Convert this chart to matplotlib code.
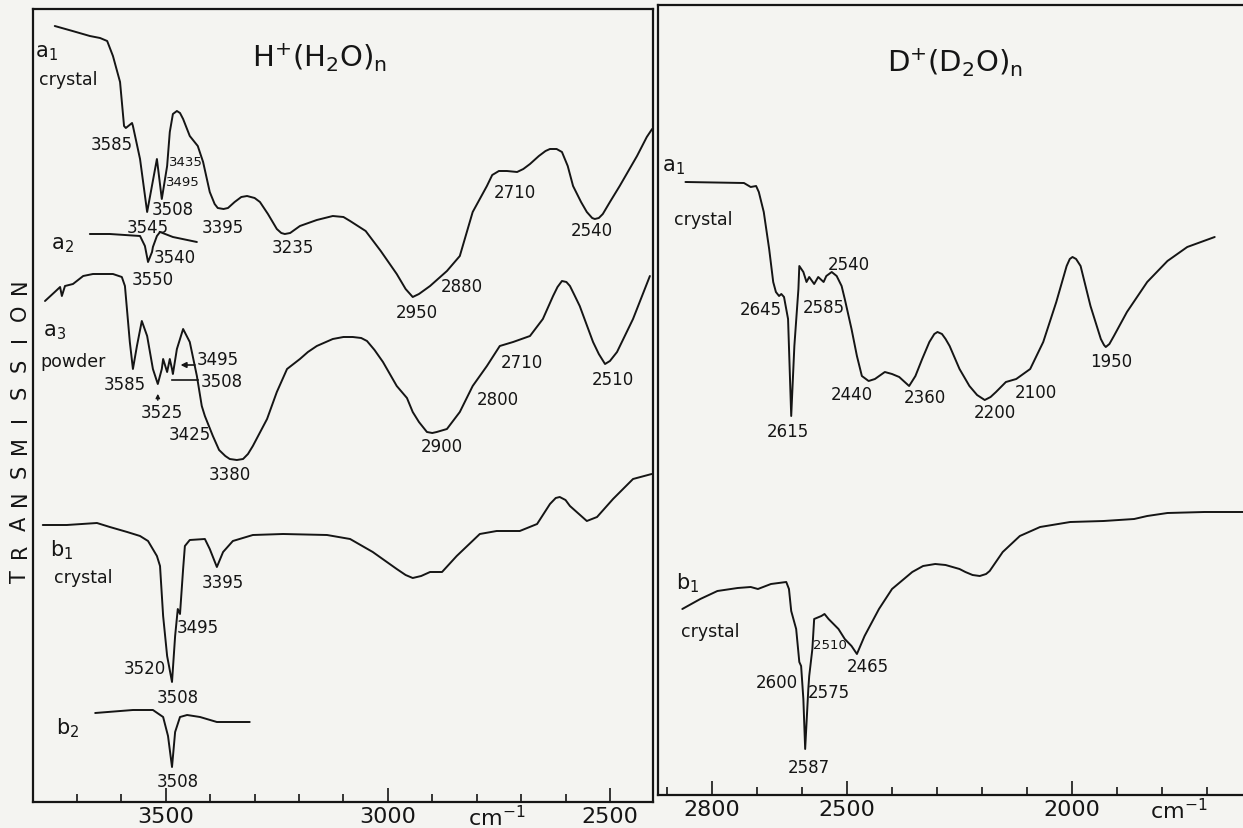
import matplotlib
matplotlib.use("Agg")
import matplotlib.pyplot as plt
from matplotlib.ticker import FixedLocator, MultipleLocator

plt.rcParams['font.family'] = ['DejaVu Sans']
plt.rcParams['mathtext.default'] = 'regular'

# ---------------- H+(H2O)n panel (wavenumber cm-1, transmission arb. units) ----------------
a1_h_wn = [3750, 3710, 3671, 3648, 3632, 3619, 3603, 3594, 3590, 3576, 3574, 3558, 3542, 3520,
           3509, 3497, 3491, 3484, 3475, 3468, 3461, 3446, 3428, 3416, 3401, 3390, 3383, 3370,
           3360, 3345, 3330, 3317, 3300, 3288, 3270, 3250, 3240, 3232, 3220, 3198, 3160, 3124,
           3100, 3085, 3050, 3016, 2980, 2960, 2944, 2930, 2905, 2867, 2838, 2809, 2777, 2765,
           2750, 2732, 2709, 2695, 2680, 2660, 2645, 2635, 2620, 2608, 2595, 2583, 2565, 2552,
           2540, 2534, 2525, 2516, 2500, 2478, 2439, 2417, 2405]
a1_h_t = [776, 771, 766, 764, 761, 746, 720, 676, 674, 679, 676, 643, 590, 643,
          603, 636, 670, 688, 691, 689, 683, 666, 656, 640, 610, 598, 594, 593,
          594, 600, 605, 606, 604, 600, 588, 573, 569, 568, 569, 576, 582, 586,
          585, 581, 571, 551, 528, 513, 505, 508, 516, 531, 546, 590, 616, 627,
          631, 631, 630, 633, 638, 646, 651, 653, 653, 650, 636, 616, 600, 590,
          584, 583, 584, 588, 600, 616, 646, 665, 673]

a2_h_wn = [3671, 3626, 3558, 3547, 3540, 3531, 3529, 3520, 3513, 3484, 3430]
a2_h_t = [568, 568, 566, 556, 540, 550, 555, 566, 570, 565, 560]

a3_h_wn = [3772, 3750, 3738, 3734, 3727, 3709, 3686, 3664, 3619, 3599, 3592, 3581, 3574, 3565,
           3554, 3542, 3529, 3518, 3509, 3506, 3497, 3491, 3486, 3484, 3475, 3461, 3446, 3430,
           3419, 3412, 3394, 3380, 3366, 3356, 3340, 3326, 3315, 3304, 3272, 3250, 3227, 3198,
           3180, 3160, 3124, 3100, 3079, 3060, 3047, 3030, 3011, 2980, 2957, 2944, 2930, 2912,
           2900, 2890, 2867, 2838, 2809, 2777, 2748, 2718, 2680, 2651, 2628, 2618, 2608, 2598,
           2590, 2580, 2568, 2538, 2525, 2511, 2500, 2484, 2448, 2410]
a3_h_t = [501, 510, 515, 506, 516, 518, 526, 528, 528, 525, 516, 460, 433, 456,
          481, 466, 433, 418, 433, 443, 430, 443, 433, 428, 453, 473, 460, 426,
          396, 386, 366, 352, 346, 343, 342, 343, 348, 356, 383, 410, 433, 443,
          450, 456, 463, 465, 465, 464, 461, 452, 440, 416, 404, 390, 380, 370,
          369, 370, 373, 390, 416, 436, 456, 460, 466, 483, 506, 515, 521, 520,
          516, 507, 496, 460, 448, 438, 441, 450, 483, 526]

b1_h_wn = [3777, 3723, 3655, 3626, 3587, 3558, 3540, 3520, 3513, 3506, 3497, 3486, 3479, 3473,
           3468, 3461, 3457, 3446, 3412, 3401, 3385, 3371, 3349, 3304, 3236, 3137, 3085, 3034,
           2980, 2960, 2944, 2925, 2905, 2878, 2845, 2793, 2755, 2703, 2664, 2635, 2622, 2613,
           2600, 2590, 2552, 2529, 2493, 2448, 2406]
b1_h_t = [277, 277, 279, 275, 270, 266, 261, 246, 236, 186, 146, 120, 166, 193,
          188, 233, 256, 262, 263, 253, 235, 250, 261, 267, 268, 267, 263, 250,
          233, 227, 224, 226, 230, 230, 246, 268, 271, 271, 278, 298, 304, 305,
          302, 296, 281, 285, 303, 323, 328]

b2_h_wn = [3659, 3574, 3529, 3506, 3495, 3486, 3479, 3468, 3452, 3423, 3385, 3311]
b2_h_t = [89, 92, 92, 85, 66, 35, 70, 85, 87, 85, 80, 80]

# ---------------- D+(D2O)n panel ----------------
a1_d_wn = [2858, 2728, 2713, 2701, 2695, 2684, 2672, 2663, 2657, 2650, 2645, 2639, 2630, 2623,
           2616, 2607, 2605, 2596, 2589, 2583, 2572, 2563, 2551, 2545, 2533, 2522, 2511, 2504,
           2489, 2477, 2466, 2451, 2437, 2415, 2399, 2383, 2361, 2347, 2332, 2316, 2305, 2298,
           2288, 2280, 2271, 2249, 2227, 2210, 2193, 2180, 2168, 2146, 2123, 2092, 2063, 2034,
           2011, 2004, 1998, 1990, 1980, 1958, 1935, 1928, 1924, 1916, 1906, 1877, 1832, 1787,
           1743, 1682]
a1_d_t = [613, 612, 608, 609, 603, 583, 546, 513, 503, 499, 501, 498, 476, 379,
          449, 506, 529, 523, 513, 518, 511, 518, 513, 519, 523, 519, 509, 496,
          466, 439, 419, 414, 416, 423, 421, 418, 409, 419, 436, 453, 461, 463,
          461, 456, 449, 426, 409, 400, 395, 398, 403, 413, 416, 426, 453, 493,
          529, 536, 538, 536, 529, 489, 456, 450, 448, 451, 459, 483, 513, 534,
          548, 558]

b1_d_wn = [2865, 2825, 2787, 2742, 2713, 2697, 2668, 2634, 2628, 2623, 2612, 2605, 2601, 2596,
           2592, 2585, 2583, 2576, 2572, 2556, 2549, 2540, 2518, 2504, 2489, 2477, 2460, 2428,
           2399, 2354, 2330, 2303, 2280, 2249, 2236, 2220, 2204, 2190, 2182, 2153, 2115, 2070,
           2003, 1929, 1861, 1832, 1787, 1705, 1600]
b1_d_t = [186, 196, 204, 207, 208, 206, 211, 213, 206, 184, 166, 133, 129, 96,
          46, 106, 119, 146, 176, 179, 181, 176, 166, 156, 149, 141, 159, 186,
          206, 223, 229, 231, 230, 226, 223, 220, 219, 221, 224, 243, 259, 268,
          273, 274, 276, 279, 282, 283, 283]

# peak labels: (text, wavenumber, y, size)
h_labels = [("3585", 3621, 658, 12), ("3435", 3455, 640, 9.5), ("3495", 3462, 620, 9.5),
            ("3508", 3484, 593, 12), ("3545", 3540, 575, 12), ("3395", 3371, 575, 12),
            ("3235", 3214, 555, 12), ("3540", 3479, 545, 12), ("3550", 3529, 523, 12),
            ("2950", 2935, 490, 12), ("2880", 2833, 516, 12), ("2710", 2714, 610, 12),
            ("2540", 2541, 572, 12),
            ("3495", 3383, 443, 12), ("3508", 3374, 421, 12), ("3585", 3592, 418, 12),
            ("3525", 3509, 390, 12), ("3425", 3446, 368, 12), ("3380", 3356, 328, 12),
            ("2900", 2878, 356, 12), ("2800", 2752, 403, 12), ("2710", 2698, 440, 12),
            ("2510", 2493, 423, 12),
            ("3395", 3371, 220, 12), ("3495", 3428, 175, 12), ("3520", 3547, 134, 12),
            ("3508", 3473, 105, 12), ("3508", 3473, 21, 12)]
d_labels = [("2540", 2495, 531, 12), ("2645", 2690, 486, 12), ("2585", 2551, 488, 12),
            ("2615", 2630, 364, 12), ("2440", 2489, 401, 12), ("2360", 2325, 398, 12),
            ("2200", 2171, 383, 12), ("2100", 2079, 403, 12), ("1950", 1911, 434, 12),
            ("2600", 2654, 113, 12), ("2575", 2540, 103, 12), ("2510", 2538, 150, 9.5),
            ("2465", 2453, 129, 12), ("2587", 2585, 28, 12)]
# trace names: (text, wavenumber, y, size)
h_names = [("$a_1$", 3768, 750, 15), ("crystal", 3720, 723, 12.5), ("$a_2$", 3732, 558, 15),
           ("$a_3$", 3750, 471, 15), ("powder", 3709, 441, 12.5), ("$b_1$", 3734, 253, 15),
           ("crystal", 3686, 225, 12.5), ("$b_2$", 3722, 75, 15)]
d_names = [("$a_1$", 2885, 629, 15), ("crystal", 2818, 576, 12.5), ("$b_1$", 2852, 213, 15),
           ("crystal", 2802, 164, 12.5)]

h_ticks = [3500, 3000, 2500]
d_ticks = [2800, 2500, 2000]

INK = '#151515'
BG = '#f4f4f1'

fig = plt.figure(figsize=(12.43, 8.29), dpi=100, facecolor=BG)
axL = fig.add_axes([33 / 1243, 26 / 829, 620 / 1243, 793 / 829])
axR = fig.add_axes([658 / 1243, 33 / 829, 590 / 1243, 790 / 829])

for ax in (axL, axR):
    ax.set_facecolor(BG)
    for s in ax.spines.values():
        s.set_linewidth(1.6)
        s.set_color(INK)
    ax.set_yticks([])
    ax.tick_params(axis='x', which='both', direction='in', top=False, colors=INK,
                   labelsize=16, pad=3)
    ax.tick_params(axis='x', which='major', length=10, width=1.2)
    ax.tick_params(axis='x', which='minor', length=6, width=1.2)
axR.spines['right'].set_visible(False)

style = dict(color=INK, lw=1.4, solid_joinstyle='round', solid_capstyle='round')
axL.plot(a1_h_wn, a1_h_t, **style)
axL.plot(a2_h_wn, a2_h_t, **style)
axL.plot(a3_h_wn, a3_h_t, **style)
axL.plot(b1_h_wn, b1_h_t, **style)
axL.plot(b2_h_wn, b2_h_t, **style)
axR.plot(a1_d_wn, a1_d_t, **style)
axR.plot(b1_d_wn, b1_d_t, **style)

axL.set_xlim(3799, 2403)
axL.set_ylim(0, 793)
axR.set_xlim(2919, 1608)
axR.set_ylim(0, 790)

axL.xaxis.set_major_locator(FixedLocator(h_ticks))
axL.xaxis.set_minor_locator(MultipleLocator(100))
axL.set_xticklabels([str(t) for t in h_ticks])
axR.xaxis.set_major_locator(FixedLocator(d_ticks))
axR.xaxis.set_minor_locator(MultipleLocator(100))
axR.set_xticklabels([str(t) for t in d_ticks])

for ax, x in ((axL, 2755), (axR, 1761)):
    ax.text(x, -0.019, "cm$^{-1}$", transform=ax.get_xaxis_transform(), ha='center',
            va='center', fontsize=16, color=INK)

for ax, labs in ((axL, h_labels), (axR, d_labels)):
    for t, x, y, fs in labs:
        ax.text(x, y, t, ha='center', va='center', fontsize=fs, color=INK)
for ax, labs in ((axL, h_names), (axR, d_names)):
    for t, x, y, fs in labs:
        ax.text(x, y, t, ha='center', va='center', fontsize=fs, color=INK)

# leader arrows for the a3 powder labels
axL.annotate("", xy=(3473, 437), xytext=(3428, 437),
             arrowprops=dict(arrowstyle='-|>', color=INK, lw=1.2, mutation_scale=8))
axL.plot([3486, 3428], [422, 422], color=INK, lw=1.2)
axL.annotate("", xy=(3518, 411), xytext=(3518, 399),
             arrowprops=dict(arrowstyle='-|>', color=INK, lw=1.0, mutation_scale=6))

axL.text(3153, 745, "H$^{+}$(H$_2$O)$_n$", ha='center', va='center', fontsize=21, color=INK)
axR.text(2258, 733, "D$^{+}$(D$_2$O)$_n$", ha='center', va='center', fontsize=21, color=INK)

letters = "TRANSMISSION"
for i, ch in enumerate(letters):
    fig.text(20 / 1243, 1 - (577 - i * 26.4) / 829, ch, rotation=90, ha='center',
             va='center', fontsize=15, color=INK)

fig.savefig("out.png", dpi=100, facecolor=BG)
